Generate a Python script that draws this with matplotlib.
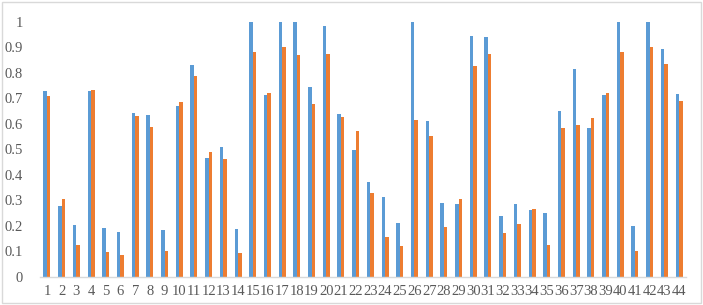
import numpy as np
import matplotlib.pyplot as plt
from matplotlib.patches import Rectangle

# 数据
categories = list(range(1, 45))
series_a = [0.727, 0.278, 0.201, 0.727, 0.192, 0.174, 0.641, 0.634, 0.184, 0.669,
            0.829, 0.465, 0.510, 0.187, 1.000, 0.714, 1.000, 1.000, 0.745, 0.982,
            0.638, 0.498, 0.373, 0.311, 0.210, 1.000, 0.612, 0.288, 0.285, 0.944,
            0.940, 0.238, 0.285, 0.261, 0.248, 0.650, 0.816, 0.583, 0.714, 1.000,
            0.200, 1.000, 0.894, 0.718]
series_b = [0.709, 0.303, 0.123, 0.731, 0.095, 0.086, 0.631, 0.588, 0.102, 0.685,
            0.786, 0.488, 0.460, 0.093, 0.880, 0.719, 0.901, 0.868, 0.676, 0.873,
            0.626, 0.570, 0.327, 0.154, 0.119, 0.613, 0.550, 0.196, 0.305, 0.826,
            0.873, 0.173, 0.207, 0.267, 0.124, 0.584, 0.595, 0.621, 0.722, 0.880,
            0.099, 0.901, 0.834, 0.690]
y_ticks = [0, 0.1, 0.2, 0.3, 0.4, 0.5, 0.6, 0.7, 0.8, 0.9, 1]
y_tick_labels = ['0', '0.1', '0.2', '0.3', '0.4', '0.5', '0.6', '0.7', '0.8', '0.9', '1']

plt.rcParams['font.family'] = ['Liberation Serif', 'DejaVu Serif']

fig = plt.figure(figsize=(7.03, 3.05), dpi=100)
fig.patch.set_facecolor('white')
# 外框
fig.patches.append(Rectangle((0.003, 0.005), 0.994, 0.99, transform=fig.transFigure,
                             fill=False, edgecolor='#D9D9D9', linewidth=1.0))

ax = fig.add_axes([0.0563, 0.0928, 0.9201, 0.8361])

x = np.array(categories)
w = 0.24
ax.bar(x - w / 2, series_a, width=w, color='#5B9BD5', linewidth=0)
ax.bar(x + w / 2, series_b, width=w, color='#ED7D31', linewidth=0)

ax.set_xlim(0.5, 44.5)
ax.set_ylim(0, 1)
ax.set_xticks(x)
ax.set_xticklabels([str(c) for c in categories], fontsize=10.5, color='#595959')
ax.set_yticks(y_ticks)
ax.set_yticklabels(y_tick_labels, fontsize=10.5, color='#595959')
ax.tick_params(axis='both', length=0)
ax.tick_params(axis='y', pad=12)
ax.tick_params(axis='x', pad=6)

for side in ['top', 'right', 'left']:
    ax.spines[side].set_visible(False)
ax.spines['bottom'].set_color('#D9D9D9')
ax.spines['bottom'].set_linewidth(1.0)

fig.savefig('out.png', dpi=100, facecolor='white')
